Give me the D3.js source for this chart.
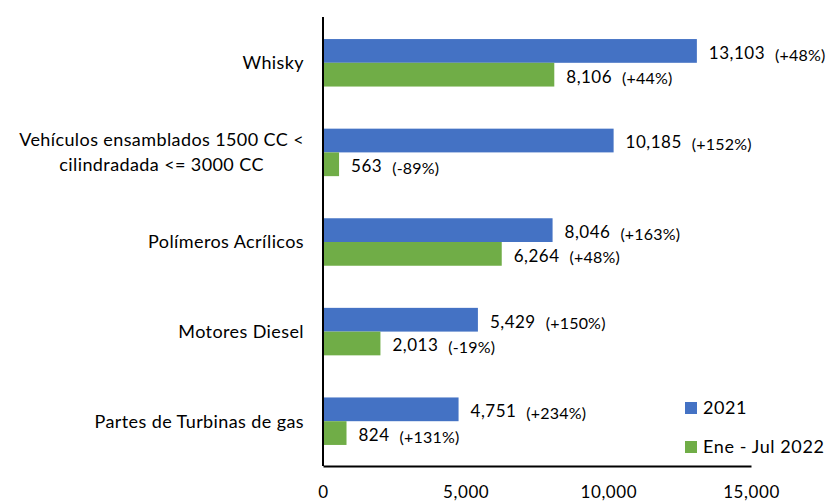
<!DOCTYPE html>
<html>
<head>
<meta charset="utf-8">
<script src="https://cdn.jsdelivr.net/npm/d3@7"></script>
<style>
  body { margin: 0; background: #fff; }
  svg { display: block; font-family: Lato, "Open Sans", sans-serif; }
</style>
</head>
<body>
<svg id="chart" width="828" height="503"></svg>
<script>
// categories top to bottom
const categories = [
  ["Whisky"],
  ["Vehículos ensamblados 1500 CC <", "cilindradada <= 3000 CC"],
  ["Polímeros Acrílicos"],
  ["Motores Diesel"],
  ["Partes de Turbinas de gas"]
];
const seriesNames = ["2021", "Ene - Jul 2022"];
const values2021 = [13103, 10185, 8046, 5429, 4751];
const values2022 = [8106, 563, 6264, 2013, 824];
const pct2021 = ["(+48%)", "(+152%)", "(+163%)", "(+150%)", "(+234%)"];
const pct2022 = ["(+44%)", "(-89%)", "(+48%)", "(-19%)", "(+131%)"];
const xTicks = [0, 5000, 10000, 15000];
const colors = ["#4472C4", "#70AD47"];

const svg = d3.select("#chart");
const margin = { top: 18, left: 323, right: 77, bottom: 37 };
const width = 828, height = 503;

const keys = categories.map((c, i) => i);
const y = d3.scaleBand()
  .domain(keys)
  .range([margin.top, height - margin.bottom])
  .paddingInner(0.47)
  .paddingOuter(0.235);
const ySub = d3.scaleBand()
  .domain([0, 1])
  .range([0, y.bandwidth()]);
const x = d3.scaleLinear()
  .domain([0, 15000])
  .range([margin.left, 751]);

const fmt = d3.format(",");
const rows = keys.map(i => ({
  i,
  vals: [values2021[i], values2022[i]],
  pcts: [pct2021[i], pct2022[i]]
}));

// bars
const g = svg.append("g").attr("class", "plot-area");
const grp = g.selectAll(".grp")
  .data(rows)
  .join("g")
  .attr("transform", d => `translate(0,${y(d.i)})`);

grp.selectAll("rect")
  .data(d => d.vals.map((v, s) => ({ v, s })))
  .join("rect")
  .attr("x", x(0))
  .attr("y", d => ySub(d.s))
  .attr("width", d => x(d.v) - x(0))
  .attr("height", ySub.bandwidth())
  .attr("fill", d => colors[d.s]);

// value + percentage labels
grp.each(function (d) {
  const sel = d3.select(this);
  d.vals.forEach((v, s) => {
    const cy = ySub(s) + ySub.bandwidth() / 2 + 2;
    const t = sel.append("text")
      .attr("x", x(v) + 12)
      .attr("y", cy)
      .attr("dy", "0.35em")
      .attr("font-size", 17)
      .attr("letter-spacing", 0.5)
      .attr("fill", "#000")
      .text(fmt(v));
    const w = t.node().getComputedTextLength();
    sel.append("text")
      .attr("x", x(v) + 12 + w + 10)
      .attr("y", cy + 2)
      .attr("dy", "0.35em")
      .attr("font-size", 16)
      .attr("letter-spacing", 0.2)
      .attr("fill", "#000")
      .text(d.pcts[s]);
  });
});

// category labels (block right-aligned, lines centred)
const catG = svg.append("g").attr("class", "y-labels");
categories.forEach((lines, i) => {
  const cy = y(i) + y.bandwidth() / 2;
  const lh = 25;
  const texts = lines.map((ln, k) => catG.append("text")
    .attr("y", cy + (k - (lines.length - 1) / 2) * lh)
    .attr("dy", "0.35em")
    .attr("font-size", 18)
    .attr("letter-spacing", 0.4)
    .attr("fill", "#000")
    .text(ln));
  const maxW = d3.max(texts, t => t.node().getComputedTextLength());
  texts.forEach(t => t.attr("x", 304 - maxW / 2).attr("text-anchor", "middle"));
});

// axes
const xAxis = d3.axisBottom(x).tickValues(xTicks).tickFormat(fmt).tickSize(0).tickPadding(20);
svg.append("g")
  .attr("class", "x-axis")
  .attr("transform", `translate(0,${height - margin.bottom})`)
  .call(xAxis)
  .call(g => g.select(".domain").attr("stroke", "#000").attr("stroke-width", 2))
  .call(g => g.selectAll("text")
    .attr("font-size", 17).attr("letter-spacing", 0.6)
    .attr("font-family", "Lato, sans-serif").attr("fill", "#000"));

svg.append("line")
  .attr("x1", x(0)).attr("x2", x(0))
  .attr("y1", 17).attr("y2", height - margin.bottom)
  .attr("stroke", "#000").attr("stroke-width", 2);

// legend
const leg = svg.append("g").attr("class", "legend");
seriesNames.forEach((n, s) => {
  const ly = 408 + s * 39;
  leg.append("rect")
    .attr("x", 685).attr("y", ly - 6).attr("width", 12).attr("height", 12)
    .attr("fill", colors[s]);
  leg.append("text")
    .attr("x", 703).attr("y", ly).attr("dy", "0.35em")
    .attr("font-size", 18).attr("letter-spacing", 0.6).attr("fill", "#000")
    .text(n);
});
</script>
</body>
</html>
